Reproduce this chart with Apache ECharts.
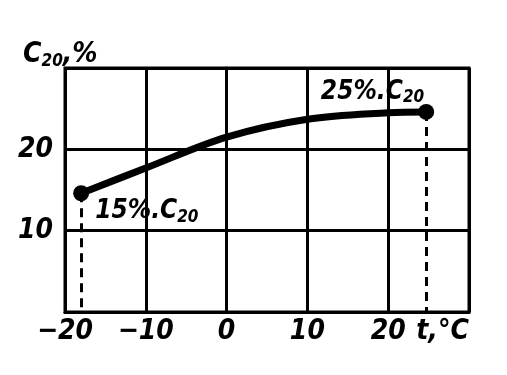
<!DOCTYPE html>
<html>
<head>
<meta charset="utf-8">
<script src="https://cdn.jsdelivr.net/npm/echarts@6/dist/echarts.min.js"></script>
<style>html,body{margin:0;padding:0;background:#fff}#c{width:507px;height:375px}</style>
</head>
<body>
<div id="c"></div>
<script>
// Curve C20 (%) vs temperature t (°C)
const tValues = [-18, -10, 0, 10, 20, 24.7];
const cValues = [14.6, 17.7, 21.5, 23.7, 24.5, 24.6];
const xTicks = [-20, -10, 0, 10, 20, 30];
const xTickLabels = ['−20', '−10', '0', '10', '20', 't,°C'];
const yTicks = [0, 10, 20, 30];
const yTickLabels = ['', '10', '20', ''];
const endLabels = ['15%', '25%'];
const yTitle = 'C';
const ySub = '20';
const ySuffix = ',%';

const FONT = 'DejaVu Sans Condensed';
const baseText = {fontFamily: FONT, fontStyle: 'italic', fontWeight: 'bold', color: '#000'};

const last = tValues.length - 1;
const endPoints = [[tValues[0], cValues[0]], [tValues[last], cValues[last]]];

const chart = echarts.init(document.getElementById('c'), null, {renderer: 'canvas'});
chart.setOption({
  animation: false,
  backgroundColor: '#fff',
  title: {
    text: '{c|' + yTitle + '}{s|' + ySub + '}{c|' + ySuffix + '}',
    left: 18, top: 34,
    textStyle: {
      rich: {
        c: Object.assign({}, baseText, {fontSize: 28}),
        s: Object.assign({}, baseText, {fontSize: 17, verticalAlign: 'bottom', padding: [14, 0, 0, 0]})
      }
    }
  },
  grid: {left: 65, right: 38, top: 68, bottom: 63, show: true, borderColor: '#000', borderWidth: 3},
  xAxis: {
    type: 'value', min: xTicks[0], max: xTicks[xTicks.length - 1], interval: 10,
    axisLine: {lineStyle: {color: '#000', width: 3}},
    axisTick: {show: false},
    splitLine: {show: true, lineStyle: {color: '#000', width: 3}},
    axisLabel: Object.assign({}, baseText, {
      fontSize: 28, margin: 6, alignMaxLabel: 'right',
      formatter: v => { const i = xTicks.indexOf(v); return i >= 0 ? xTickLabels[i] : ''; }
    })
  },
  yAxis: {
    type: 'value', min: yTicks[0], max: yTicks[yTicks.length - 1], interval: 10,
    axisLine: {show: true, lineStyle: {color: '#000', width: 3}},
    axisTick: {show: false},
    splitLine: {show: true, lineStyle: {color: '#000', width: 3}},
    axisLabel: Object.assign({}, baseText, {
      fontSize: 28, margin: 12,
      formatter: v => { const i = yTicks.indexOf(v); return i >= 0 ? yTickLabels[i] : ''; }
    })
  },
  series: [
    {
      type: 'line',
      data: tValues.map((t, i) => [t, cValues[i]]),
      smooth: 0.35,
      showSymbol: false,
      lineStyle: {color: '#000', width: 7},
      markLine: {
        silent: true, symbol: 'none',
        label: {show: false},
        lineStyle: {color: '#000', width: 3, type: [9, 6]},
        data: endPoints.map(p => [{coord: [p[0], p[1]]}, {coord: [p[0], yTicks[0]]}])
      }
    },
    {
      type: 'scatter',
      data: endPoints,
      symbolSize: 16,
      itemStyle: {color: '#000', opacity: 1},
      z: 5,
      label: {
        show: true,
        formatter: p => '{a|' + endLabels[p.dataIndex] + '.C}{s|' + ySub + '}',
        rich: {
          a: Object.assign({}, baseText, {fontSize: 26}),
          s: Object.assign({}, baseText, {fontSize: 17, verticalAlign: 'bottom', padding: [12, 0, 0, 0]})
        },
        position: 'right'
      },
      labelLayout: function (params) {
        if (params.dataIndex === 0) {
          return {x: params.rect.x + 22, y: params.rect.y + params.rect.height / 2 + 18, align: 'left', verticalAlign: 'middle'};
        }
        return {x: params.rect.x + 6, y: params.rect.y - 12, align: 'right', verticalAlign: 'middle'};
      }
    }
  ]
});
</script>
</body>
</html>
